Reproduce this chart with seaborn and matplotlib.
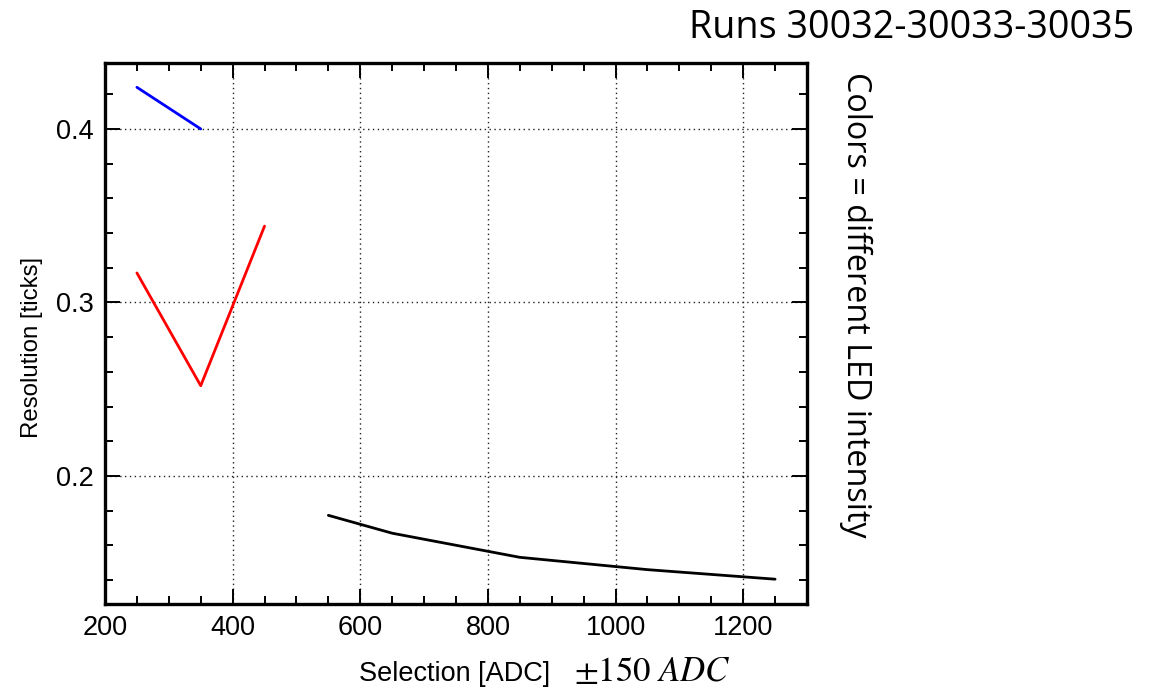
import matplotlib
matplotlib.use("Agg")
import matplotlib.pyplot as plt
from matplotlib.ticker import MultipleLocator
import seaborn as sns
import pandas as pd

# ---- data ----
blue_x = [250, 350]
blue_y = [0.424, 0.400]
red_x = [250, 350, 450]
red_y = [0.317, 0.252, 0.344]
black_x = [550, 650, 850, 1050, 1250]
black_y = [0.1773, 0.1670, 0.1531, 0.1460, 0.1405]
series_colors = {"blue": "#0000ff", "red": "#ff0000", "black": "#000000"}

x_label = "Selection [ADC]"
x_label_extra = r"$\pm150\ ADC$"
y_label = "Resolution [ticks]"
title_text = "Runs 30032-30033-30035"
side_text = "Colors = different LED intensity"

df = pd.concat([
    pd.DataFrame({"x": blue_x, "y": blue_y, "s": "blue"}),
    pd.DataFrame({"x": red_x, "y": red_y, "s": "red"}),
    pd.DataFrame({"x": black_x, "y": black_y, "s": "black"}),
], ignore_index=True)

sns.set_style("ticks")
plt.rcParams["font.family"] = ["Liberation Sans", "DejaVu Sans"]
plt.rcParams["mathtext.fontset"] = "stix"
plt.rcParams["text.color"] = "black"
plt.rcParams["xtick.color"] = "black"
plt.rcParams["ytick.color"] = "black"
plt.rcParams["xtick.labelcolor"] = "black"
plt.rcParams["ytick.labelcolor"] = "black"

W, H = 1166, 691
fig = plt.figure(figsize=(W / 100, H / 100), dpi=100)
ax = fig.add_axes([105 / W, 1 - 604 / H, (807 - 105) / W, (604 - 63) / H])

sns.lineplot(data=df, x="x", y="y", hue="s", palette=series_colors,
             units="s", estimator=None, sort=False, linewidth=2.0,
             legend=False, ax=ax)

ax.set_xlim(200, 1300)
ax.set_ylim(0.1262, 0.438)
ax.xaxis.set_major_locator(MultipleLocator(200))
ax.xaxis.set_minor_locator(MultipleLocator(50))
ax.yaxis.set_major_locator(MultipleLocator(0.1))
ax.yaxis.set_minor_locator(MultipleLocator(0.02))
ax.yaxis.set_major_formatter(matplotlib.ticker.FormatStrFormatter("%.1f"))

ax.tick_params(which="both", direction="in", top=True, right=True,
               color="black", labelcolor="black", width=1.4, labelsize=19.5, pad=8)
ax.tick_params(which="major", length=11)
ax.tick_params(which="minor", length=5.5)
ax.grid(True, which="major", linestyle=(0, (1, 2.5)), color="#222222", linewidth=1.0)

for sp in ax.spines.values():
    sp.set_visible(True)
    sp.set_linewidth(2.4)
    sp.set_color("black")

ax.set_xlabel("")
ax.set_ylabel("")

fig.text(455 / W, 1 - 674 / H, x_label, ha="center", va="center", fontsize=19.5, color="black")
fig.text(652 / W, 1 - 672 / H, x_label_extra, ha="center", va="center", fontsize=25, color="black")
fig.text(32 / W, 1 - 347 / H, y_label, ha="center", va="center", rotation=90, fontsize=17.3,
         color="black")
fig.text(912 / W, 1 - 28 / H, title_text, ha="center", va="center", fontsize=27.2,
         family=["Open Sans", "DejaVu Sans"], color="black")
fig.text(856 / W, 1 - 305 / H, side_text, ha="center", va="center", rotation=-90,
         fontsize=23.3, family=["Open Sans", "DejaVu Sans"], color="black")

fig.savefig("out.png", dpi=100, facecolor="white")
